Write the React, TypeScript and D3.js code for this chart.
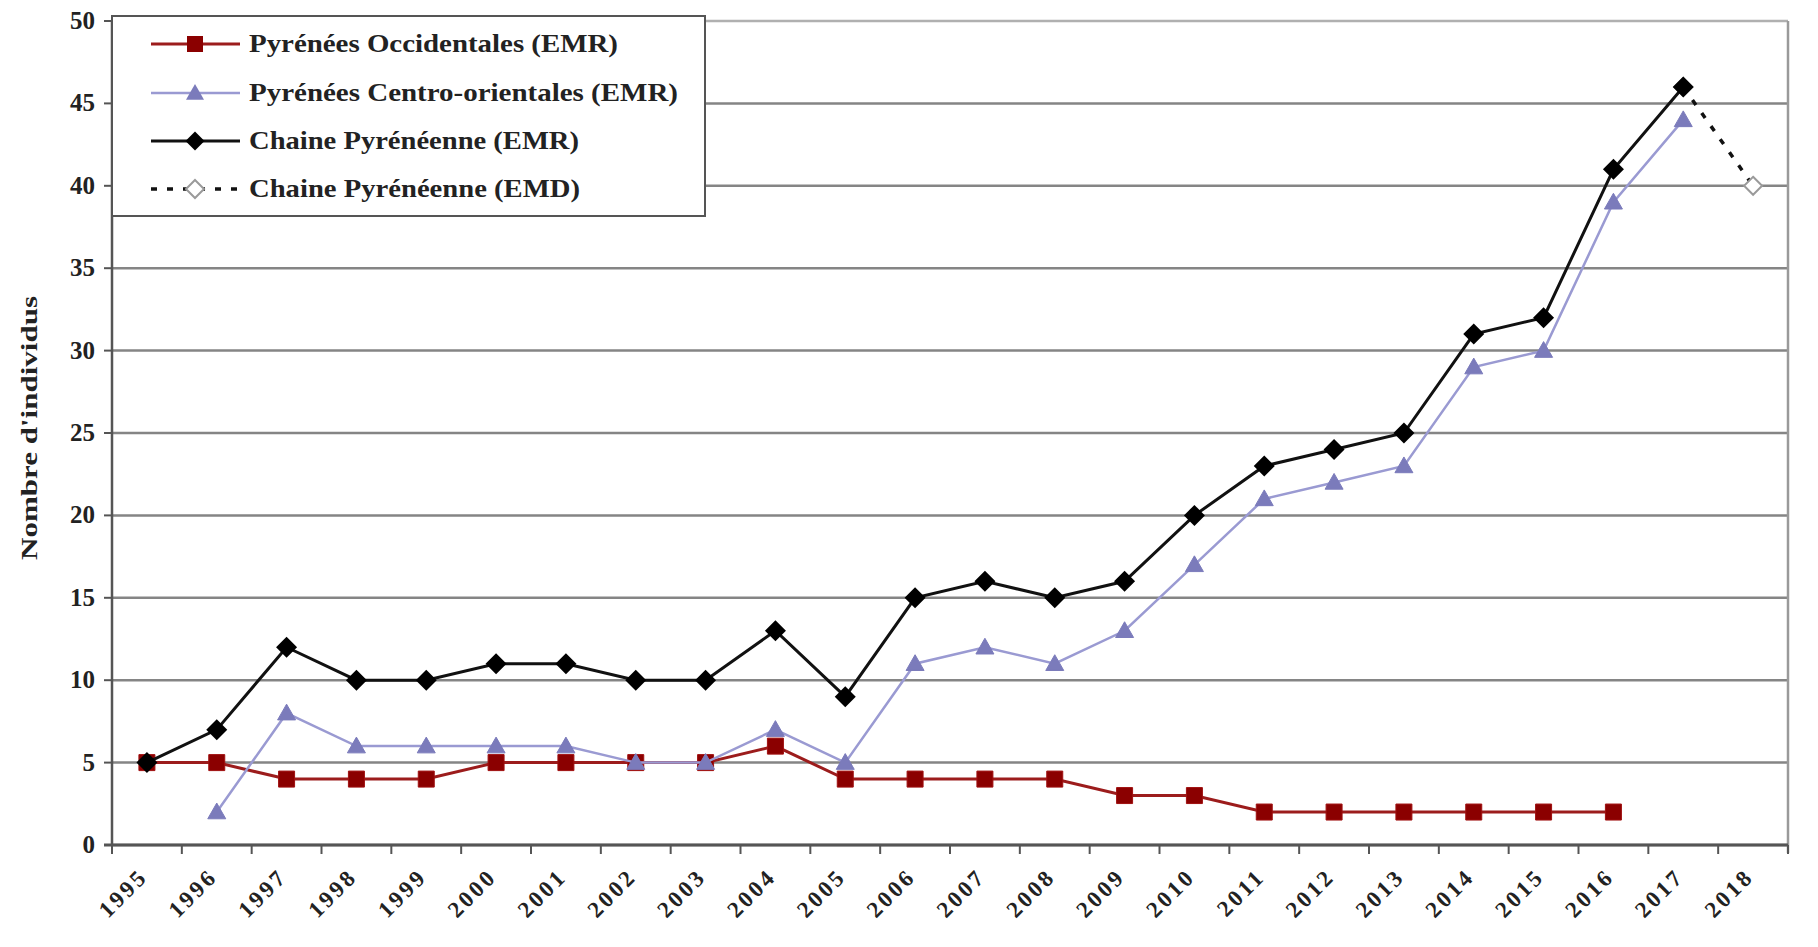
import React from 'react';
import * as d3 from 'd3';

const years = ['1995','1996','1997','1998','1999','2000','2001','2002','2003','2004','2005','2006','2007','2008','2009','2010','2011','2012','2013','2014','2015','2016','2017','2018'];
const occidentales: (number|null)[] = [5,5,4,4,4,5,5,5,5,6,4,4,4,4,3,3,2,2,2,2,2,2,null,null];
const centroOrientales: (number|null)[] = [null,2,8,6,6,6,6,5,5,7,5,11,12,11,13,17,21,22,23,29,30,39,44,null];
const chaineEMR: (number|null)[] = [5,7,12,10,10,11,11,10,10,13,9,15,16,15,16,20,23,24,25,31,32,41,46,null];
const chaineEMD: (number|null)[] = [null,null,null,null,null,null,null,null,null,null,null,null,null,null,null,null,null,null,null,null,null,null,46,40];
const yTicks = [0,5,10,15,20,25,30,35,40,45,50];
const legendLabels = ['Pyrénées Occidentales (EMR)','Pyrénées Centro-orientales (EMR)','Chaine Pyrénéenne (EMR)','Chaine Pyrénéenne (EMD)'];
const legendWidths = [369, 429, 330, 331];

const W = 1818, H = 947;
const L = 112, R = 1788, T = 21, B = 845;
const FONT = '"Liberation Serif", "Times New Roman", serif';

const RED_LINE = '#9c1c1c', RED_FILL = '#8b0000';
const BLUE_LINE = '#9a9ad2', BLUE_FILL = '#7b7bbb';

const square = (cx: number, cy: number, s = 7) => `M${cx - s},${cy - s}H${cx + s}V${cy + s}H${cx - s}Z`;
const diamond = (cx: number, cy: number, s = 9) => `M${cx},${cy - s}L${cx + s},${cy}L${cx},${cy + s}L${cx - s},${cy}Z`;
const triangle = (cx: number, cy: number, s = 8) => `M${cx},${cy - s}L${cx + s},${cy + s * 0.75}L${cx - s},${cy + s * 0.75}Z`;

export default function App() {
  const x = d3.scaleBand<string>().domain(years).range([L, R]);
  const y = d3.scaleLinear().domain([0, 50]).range([B, T]);
  const cx = (i: number) => (x(years[i]) as number) + x.bandwidth() / 2;
  const line = d3.line<number|null>()
    .defined(d => d !== null)
    .x((_, i) => cx(i))
    .y(d => y(d as number));

  const pts = (arr: (number|null)[]) => arr.map((v, i) => v === null ? null : { x: cx(i), y: y(v) }).filter(Boolean) as {x:number,y:number}[];
  const bw = x.bandwidth();
  const boundaries = d3.range(years.length + 1).map(i => L + i * bw);

  const legendRowY = [44, 93, 141, 189];
  const lx0 = 151, lx1 = 240, lmx = 195, ltx = 249;

  return (
    <svg width={W} height={H} style={{ position: 'absolute', left: 0, top: 0, background: '#fff' }} fontFamily={FONT}>
      <rect x={0} y={0} width={W} height={H} fill="#fff" />
      {/* gridlines */}
      {yTicks.map(t => (
        <line key={'g' + t} x1={L} x2={R} y1={y(t)} y2={y(t)} stroke={t === 50 ? '#b0b0b0' : '#858585'} strokeWidth={2.5} />
      ))}
      {/* right border */}
      <line x1={R} x2={R} y1={T} y2={B + 8} stroke="#9a9a9a" strokeWidth={2.5} />
      {/* y axis */}
      <line x1={L} x2={L} y1={T} y2={B} stroke="#555" strokeWidth={2.5} />
      {yTicks.map(t => (
        <line key={'yt' + t} x1={L - 8} x2={L} y1={y(t)} y2={y(t)} stroke="#555" strokeWidth={2} />
      ))}
      {yTicks.map(t => (
        <text key={'yl' + t} x={95} y={y(t) + 8} textAnchor="end" fontSize={25} fontWeight="bold" fill="#222">{t}</text>
      ))}
      {/* x axis */}
      <line x1={L - 8} x2={R} y1={B} y2={B} stroke="#555" strokeWidth={3} />
      {boundaries.map((bx, i) => (
        <line key={'xt' + i} x1={bx} x2={bx} y1={B} y2={B + 9} stroke="#555" strokeWidth={2} />
      ))}
      {years.map((yr, i) => (
        <text key={'xl' + yr} transform={`translate(${cx(i) + 2},${878}) rotate(-45)`} textAnchor="end" fontSize={23} fontWeight="bold" letterSpacing={3} fill="#222">{yr}</text>
      ))}
      {/* y title */}
      <text transform={`translate(37,428) rotate(-90)`} textAnchor="middle" fontSize={24} fontWeight="bold" fill="#222" textLength={264} lengthAdjust="spacingAndGlyphs">Nombre d'individus</text>

      {/* EMD dotted */}
      <path d={line(chaineEMD) || ''} fill="none" stroke="#111" strokeWidth={3.5} strokeDasharray="6 10" />
      {pts(chaineEMD).map((p, i) => (
        <path key={'emd' + i} d={diamond(p.x, p.y, 9)} fill="#fff" stroke="#9a9a9a" strokeWidth={2} />
      ))}

      {/* Occidentales */}
      <path d={line(occidentales) || ''} fill="none" stroke={RED_LINE} strokeWidth={3} />
      {pts(occidentales).map((p, i) => (
        <path key={'oc' + i} d={square(p.x, p.y, 8)} fill={RED_FILL} stroke="#a01010" strokeWidth={1} />
      ))}

      {/* Centro-orientales */}
      <path d={line(centroOrientales) || ''} fill="none" stroke={BLUE_LINE} strokeWidth={2.5} />
      {pts(centroOrientales).map((p, i) => (
        <path key={'co' + i} d={triangle(p.x, p.y, 9)} fill={BLUE_FILL} stroke={BLUE_FILL} strokeWidth={1} />
      ))}

      {/* Chaine EMR */}
      <path d={line(chaineEMR) || ''} fill="none" stroke="#111" strokeWidth={3} />
      {pts(chaineEMR).map((p, i) => (
        <path key={'ch' + i} d={diamond(p.x, p.y, 10.5)} fill="#000" />
      ))}

      {/* legend */}
      <rect x={112} y={16} width={593} height={200} fill="#fff" stroke="#555" strokeWidth={2} />
      <g>
        <line x1={lx0} x2={lx1} y1={legendRowY[0]} y2={legendRowY[0]} stroke={RED_LINE} strokeWidth={3} />
        <path d={square(lmx, legendRowY[0], 8)} fill={RED_FILL} />
        <line x1={lx0} x2={lx1} y1={legendRowY[1]} y2={legendRowY[1]} stroke={BLUE_LINE} strokeWidth={2.5} />
        <path d={triangle(lmx, legendRowY[1], 9)} fill={BLUE_FILL} />
        <line x1={lx0} x2={lx1} y1={legendRowY[2]} y2={legendRowY[2]} stroke="#111" strokeWidth={3} />
        <path d={diamond(lmx, legendRowY[2], 9.5)} fill="#000" />
        <line x1={lx0} x2={lx1} y1={legendRowY[3]} y2={legendRowY[3]} stroke="#111" strokeWidth={3.5} strokeDasharray="6 10" />
        <path d={diamond(lmx, legendRowY[3], 9)} fill="#fff" stroke="#9a9a9a" strokeWidth={2} />
        {legendLabels.map((lab, i) => (
          <text key={lab} x={ltx} y={legendRowY[i] + 8} fontSize={25} fontWeight="bold" fill="#222" textLength={legendWidths[i]} lengthAdjust="spacingAndGlyphs">{lab}</text>
        ))}
      </g>
    </svg>
  );
}
